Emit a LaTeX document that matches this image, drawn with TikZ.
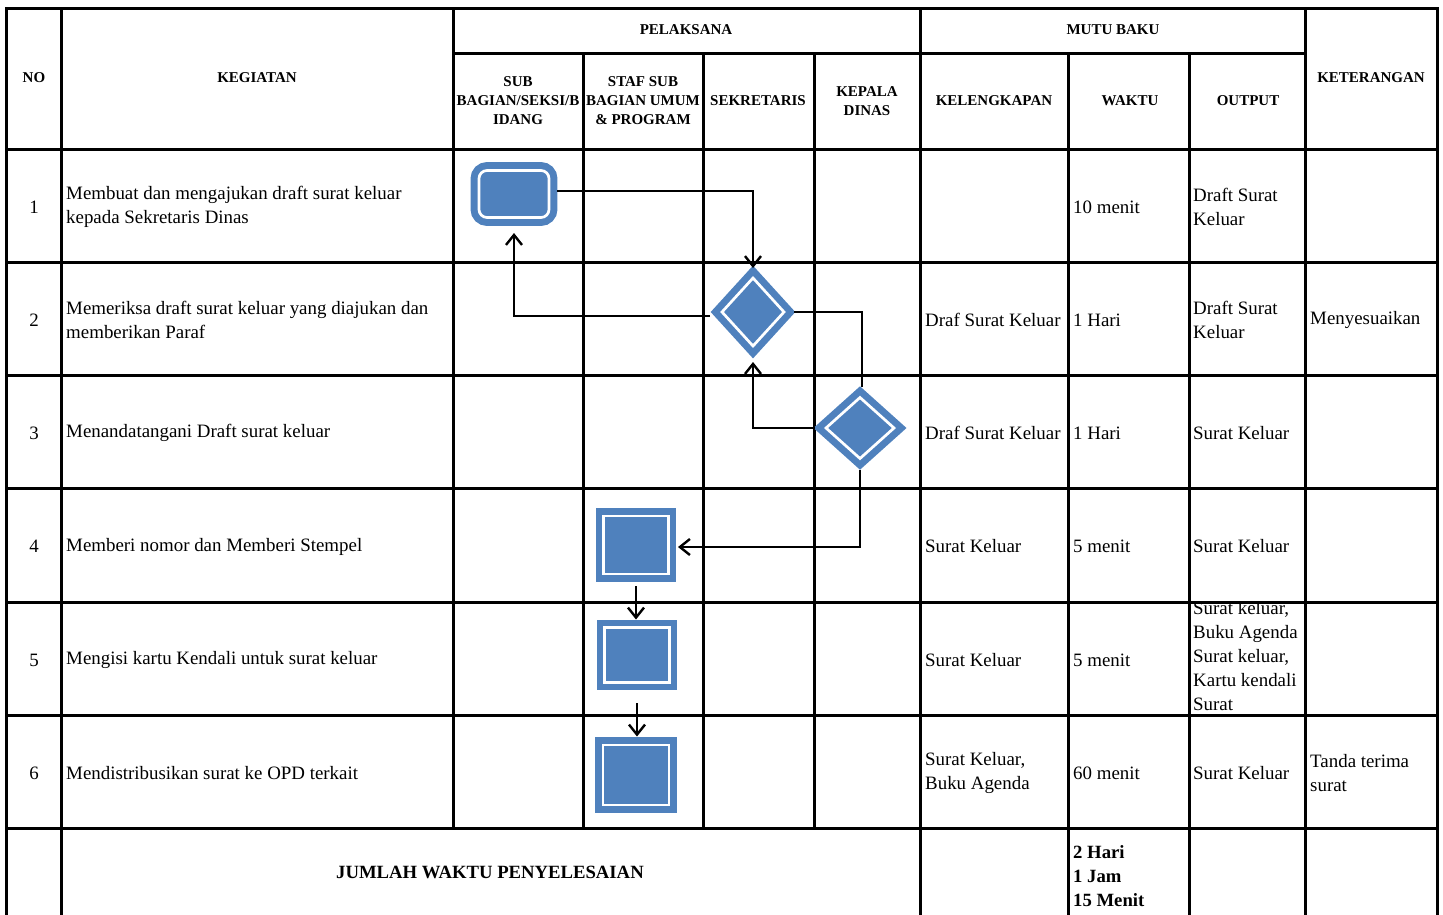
\documentclass[tikz,border=0pt]{standalone}
\usepackage{fontspec}
\setmainfont{Liberation Serif}
\usetikzlibrary{shapes.geometric,arrows.meta}
\definecolor{shapeblue}{RGB}{79,129,189}
\begin{document}
\begin{tikzpicture}[x=1pt,y=-1pt,
  grid/.style={line width=3pt,line cap=rect},
  hdr/.style={font=\fontsize{15}{19}\selectfont\bfseries,align=center,inner sep=0pt},
  body/.style={font=\fontsize{18.9}{24}\selectfont,align=left,anchor=west,inner sep=0pt},
  num/.style={font=\fontsize{18.9}{24}\selectfont,inner sep=0pt},
  foot/.style={font=\fontsize{18.7}{24}\selectfont\bfseries,align=left,inner sep=0pt},
  blk/.style={fill=shapeblue,draw=shapeblue,double=white,double distance=2.7pt,line width=7pt,inner sep=0pt,outer sep=0pt},
  startbox/.style={blk,rectangle,rounded corners=8pt},
  decbox/.style={blk,diamond},
  procbox/.style={blk,rectangle,line width=6.5pt},
  flow/.style={line width=2.4pt,-{Straight Barb[length=10pt,width=16pt]}},
  flowplain/.style={line width=2.4pt}]
\useasboundingbox (0,0) rectangle (1443,914);

% grid
\foreach \y in {8,149,262,375,488,602,715,828} \draw[grid] (6,\y) -- (1437,\y);
\draw[grid] (453,53) -- (1305,53);
\foreach \x in {6,61,920,1305,1437} \draw[grid] (\x,8) -- (\x,916);
\foreach \x in {1068,1189} \draw[grid] (\x,53) -- (\x,916);
\draw[grid] (453,8) -- (453,828);
\foreach \x in {583,703,814} \draw[grid] (\x,53) -- (\x,828);

% headers
\node[hdr] (hNo) at (34,78) {NO};
\node[hdr] (hKeg) at (257,78) {KEGIATAN};
\node[hdr] (hPel) at (686,30) {PELAKSANA};
\node[hdr] (hMutu) at (1113,30) {MUTU BAKU};
\node[hdr] (hKet) at (1371,78) {KETERANGAN};
\node[hdr] (hSub) at (518,101) {SUB\\BAGIAN/SEKSI/B\\IDANG};
\node[hdr] (hStaf) at (643,101) {STAF SUB\\BAGIAN UMUM\\\&{} PROGRAM};
\node[hdr] (hSek) at (758,101) {SEKRETARIS};
\node[hdr] (hKep) at (867,101) {KEPALA\\DINAS};
\node[hdr] (hKel) at (994,101) {KELENGKAPAN};
\node[hdr] (hWak) at (1130,101) {WAKTU};
\node[hdr] (hOut) at (1248,101) {OUTPUT};

% numbers
\node[num] (n1) at (34,207) {1};
\node[num] (n2) at (34,320) {2};
\node[num] (n3) at (34,433) {3};
\node[num] (n4) at (34,546.5) {4};
\node[num] (n5) at (34,660) {5};
\node[num] (n6) at (34,773) {6};

% kegiatan
\node[body] (k1) at (66,207) {Membuat dan mengajukan draft surat keluar\\kepada Sekretaris Dinas};
\node[body] (k2) at (66,320) {Memeriksa draft surat keluar yang diajukan dan\\memberikan Paraf};
\node[body] (k3) at (66,433) {Menandatangani Draft surat keluar};
\node[body] (k4) at (66,546.5) {Memberi nomor dan Memberi Stempel};
\node[body] (k5) at (66,660) {Mengisi kartu Kendali untuk surat keluar};
\node[body] (k6) at (66,773) {Mendistribusikan surat ke OPD terkait};

% kelengkapan
\node[body] (l2) at (925,320) {Draf Surat Keluar};
\node[body] (l3) at (925,433) {Draf Surat Keluar};
\node[body] (l4) at (925,546.5) {Surat Keluar};
\node[body] (l5) at (925,660) {Surat Keluar};
\node[body] (l6) at (925,773) {Surat Keluar,\\Buku Agenda};

% waktu
\node[body] (w1) at (1073,207) {10 menit};
\node[body] (w2) at (1073,320) {1 Hari};
\node[body] (w3) at (1073,433) {1 Hari};
\node[body] (w4) at (1073,546.5) {5 menit};
\node[body] (w5) at (1073,660) {5 menit};
\node[body] (w6) at (1073,773) {60 menit};

% output
\node[body] (o1) at (1193,207) {Draft Surat\\Keluar};
\node[body] (o2) at (1193,320) {Draft Surat\\Keluar};
\node[body] (o3) at (1193,433) {Surat Keluar};
\node[body] (o4) at (1193,546.5) {Surat Keluar};
\begin{scope}
  \clip (1191,603.6) rectangle (1303,713);
  \node[body] (o5) at (1193,656) {Surat keluar,\\Buku Agenda\\Surat keluar,\\Kartu kendali\\Surat};
\end{scope}
\node[body] (o6) at (1193,773) {Surat Keluar};

% keterangan
\node[body] (t2) at (1310,320) {Menyesuaikan};
\node[body] (t6) at (1310,773) {Tanda terima\\surat};

% footer
\node[foot] (fTot) at (490,872) {JUMLAH WAKTU PENYELESAIAN};
\node[foot,anchor=west] (fWak) at (1073,876) {2 Hari\\1 Jam\\15 Menit};

% flowchart shapes
\node[startbox,minimum width=70pt,minimum height=47pt] (s1) at (514,194) {};
\node[decbox,minimum width=62pt,minimum height=68pt] (d1) at (753,312) {};
\node[decbox,minimum width=68pt,minimum height=61pt] (d2) at (860,428) {};
\node[procbox,minimum width=65pt,minimum height=58pt] (p1) at (636,545) {};
\node[procbox,minimum width=65pt,minimum height=55pt] (p2) at (637,655) {};
\node[procbox,minimum width=66pt,minimum height=60pt] (p3) at (636,775) {};

% connectors
\draw[flow,shorten <=8.4pt,shorten >=10pt] ([yshift=3pt]s1.east) -| (d1.north);
\draw[flow,shorten <=12pt,shorten >=15.5pt] ([yshift=-4pt]d1.west) -| (s1.south);
\draw[flowplain,shorten <=10pt,shorten >=11pt] (d1.east) -| ([xshift=2pt]d2.north);
\draw[flow,shorten <=11pt,shorten >=16pt] (d2.west) -| (d1.south);
\draw[flow,shorten <=11.5pt,shorten >=9.5pt] (d2.south) |- ([yshift=-2pt]p1.east);
\draw[flow,shorten <=12pt,shorten >=8pt] (p1.south) -- (p1.south |- p2.north);
\draw[flow,shorten <=20.5pt,shorten >=8.5pt] (p2.south) -- (p2.south |- p3.north);
\end{tikzpicture}
\end{document}
